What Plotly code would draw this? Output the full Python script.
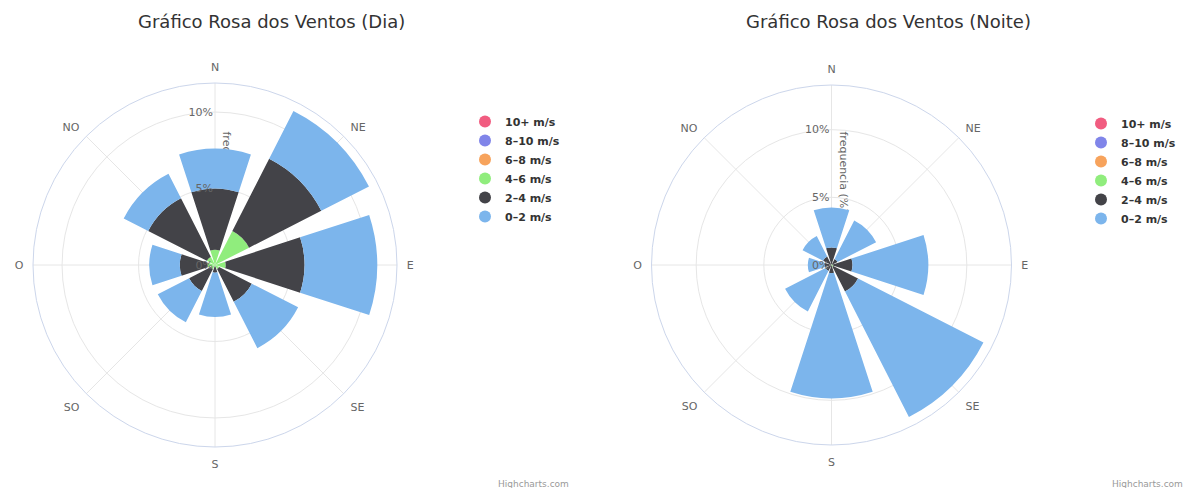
import plotly.graph_objects as go

directions = ['N', 'NE', 'E', 'SE', 'S', 'SO', 'O', 'NO']
speed_bins = ['10+ m/s', '8–10 m/s', '6–8 m/s', '4–6 m/s', '2–4 m/s', '0–2 m/s']
colors = ['#f15c80', '#8085e9', '#f7a35c', '#90ed7d', '#434348', '#7cb5ec']

# Dia (day) frequencies in %, per direction
dia_10p = [0, 0, 0, 0, 0, 0, 0, 0]
dia_8_10 = [0, 0, 0, 0, 0, 0, 0, 0]
dia_6_8 = [0, 0, 0, 0, 0, 0, 0, 0]
dia_4_6 = [1.0, 2.5, 0.7, 0.3, 0.1, 0.3, 0.5, 0.6]
dia_2_4 = [4.0, 5.3, 5.15, 2.4, 0.4, 1.6, 1.8, 4.3]
dia_0_2 = [2.6, 3.5, 4.75, 3.4, 2.9, 2.3, 2.0, 1.8]

# Noite (night) frequencies in %, per direction
noite_10p = [0, 0, 0, 0, 0, 0, 0, 0]
noite_8_10 = [0, 0, 0, 0, 0, 0, 0, 0]
noite_6_8 = [0, 0, 0, 0, 0, 0, 0, 0]
noite_4_6 = [0.05, 0.05, 0.1, 0.15, 0.05, 0.0, 0.0, 0.05]
noite_2_4 = [1.25, 0.45, 1.45, 2.05, 0.55, 0.5, 0.5, 0.65]
noite_0_2 = [2.95, 3.2, 5.6, 10.4, 9.25, 3.35, 1.25, 1.7]

radial_ticks = [0, 5, 10]
radial_ticktext = ['0%', '5%', '10%']
dia_max = 11.9
noite_max = 13.3
axis_title = 'frequencia (%)'

dia_series = [dia_10p, dia_8_10, dia_6_8, dia_4_6, dia_2_4, dia_0_2]
noite_series = [noite_10p, noite_8_10, noite_6_8, noite_4_6, noite_2_4, noite_0_2]

fig = go.Figure()

for subplot, legend, series in [('polar', 'legend', dia_series), ('polar2', 'legend2', noite_series)]:
    for name, color, vals in zip(speed_bins, colors, series):
        fig.add_trace(go.Barpolar(
            r=vals, theta=directions, name=name, subplot=subplot,
            marker=dict(color=color, line=dict(width=0)),
            showlegend=False, legend=legend,
        ))
    for name, color in zip(speed_bins, colors):
        fig.add_trace(go.Scatterpolar(
            r=[None], theta=[directions[0]], mode='markers', name=name,
            subplot=subplot, legend=legend,
            marker=dict(color=color, size=12, symbol='circle'),
        ))


def polar_cfg(xdom, ydom, rmax):
    return dict(
        domain=dict(x=xdom, y=ydom),
        bgcolor='rgba(0,0,0,0)',
        bargap=0.2,
        barmode='stack',
        radialaxis=dict(
            range=[0, rmax], tickvals=radial_ticks, ticktext=radial_ticktext,
            angle=90, tickangle=90, side='counterclockwise',
            showline=False, ticks='', gridcolor='#e6e6e6',
            tickfont=dict(family='DejaVu Sans', size=11, color='#666666'),
            layer='above traces',
        ),
        angularaxis=dict(
            type='category', categoryarray=directions,
            direction='clockwise', rotation=90,
            gridcolor='#e6e6e6', showline=True, linecolor='#ccd6eb', linewidth=1,
            ticks='outside', ticklen=7, tickcolor='rgba(0,0,0,0)',
            tickfont=dict(family='DejaVu Sans', size=11, color='#666666'),
            layer='below traces',
        ),
    )


W, H = 1187, 488
legend_font = dict(family='DejaVu Sans', size=11, color='#333333', weight='bold')


def title_label(xc, yc):
    # radial axis title drawn beneath the data (like the reference)
    return dict(
        type='line', xref='paper', yref='paper', layer='below',
        x0=xc / W, x1=xc / W, y0=1 - (yc - 45) / H, y1=1 - (yc + 45) / H,
        line=dict(width=0, color='rgba(0,0,0,0)'),
        label=dict(text=axis_title, textangle=90, textposition='middle',
                   font=dict(family='DejaVu Sans', size=11, color='#666666')),
    )


fig.update_layout(
    width=W, height=H,
    margin=dict(l=0, r=0, t=0, b=0),
    paper_bgcolor='white', plot_bgcolor='white',
    font=dict(family='DejaVu Sans', color='#333333'),
    polar=polar_cfg([(215 - 182) / W, (215 + 182) / W], [(223 - 182) / H, (223 + 182) / H], dia_max),
    polar2=polar_cfg([(831.5 - 180) / W, (831.5 + 180) / W], [(223 - 180) / H, (223 + 180) / H], noite_max),
    legend=dict(x=465 / W, y=1 - 107 / H, xanchor='left', yanchor='top',
                font=legend_font, bgcolor='rgba(0,0,0,0)', tracegroupgap=0),
    legend2=dict(x=1081 / W, y=1 - 109 / H, xanchor='left', yanchor='top',
                 font=legend_font, bgcolor='rgba(0,0,0,0)', tracegroupgap=0),
    shapes=[title_label(221, 175), title_label(838, 175)],
    annotations=[
        dict(text='Gráfico Rosa dos Ventos (Dia)', x=271 / W, y=1 - 22 / H, xref='paper', yref='paper',
             xanchor='center', yanchor='middle',
             showarrow=False, font=dict(family='DejaVu Sans', size=18, color='#333333')),
        dict(text='Gráfico Rosa dos Ventos (Noite)', x=888 / W, y=1 - 22 / H, xref='paper', yref='paper',
             xanchor='center', yanchor='middle',
             showarrow=False, font=dict(family='DejaVu Sans', size=18, color='#333333')),
        dict(text='Highcharts.com', x=571 / W, y=1 - 484 / H, xref='paper', yref='paper',
             xanchor='right', yanchor='middle',
             showarrow=False, font=dict(family='DejaVu Sans', size=9, color='#999999')),
        dict(text='Highcharts.com', x=1185 / W, y=1 - 484 / H, xref='paper', yref='paper',
             xanchor='right', yanchor='middle',
             showarrow=False, font=dict(family='DejaVu Sans', size=9, color='#999999')),
    ],
)

fig.write_html('out.html', config={'displayModeBar': False},
               post_script="document.body.style.margin='0px';document.body.style.overflow='hidden';")
